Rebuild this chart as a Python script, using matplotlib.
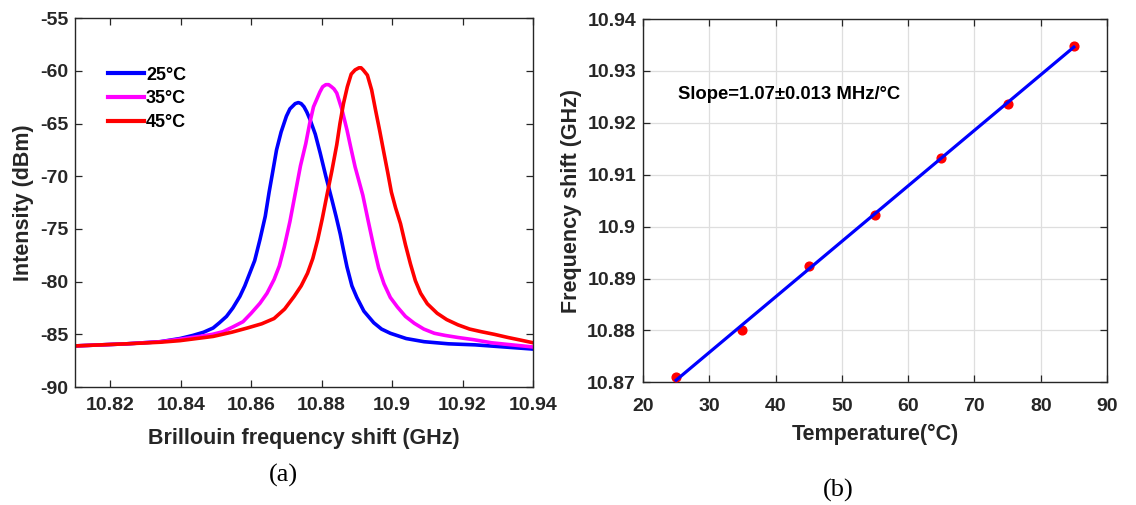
import numpy as np
import matplotlib
matplotlib.use("Agg")
import matplotlib.pyplot as plt

plt.rcParams['font.family'] = ['Liberation Sans', 'DejaVu Sans']
plt.rcParams['axes.unicode_minus'] = False

# ---------------- data ----------------
f_25 = [10.810, 10.8247, 10.8342, 10.8398, 10.8435, 10.8465, 10.8492, 10.8510, 10.8530,
        10.8548, 10.8568, 10.8582, 10.8596, 10.8610, 10.8625, 10.8640, 10.8651, 10.8660,
        10.8672, 10.8685, 10.8700, 10.8710, 10.8725, 10.8734, 10.8742, 10.8750, 10.8758,
        10.8767, 10.8782, 10.8796, 10.8812, 10.8829, 10.8841, 10.8853, 10.8862, 10.8872,
        10.8886, 10.8900, 10.8920, 10.8948, 10.8970, 10.8995, 10.9040, 10.9091, 10.9160,
        10.9236, 10.9400]
p_25 = [-86.1, -85.9, -85.7, -85.4, -85.1, -84.8, -84.4, -83.9, -83.3,
        -82.5, -81.4, -80.4, -79.2, -78.0, -76.0, -73.8, -71.5, -69.8,
        -67.5, -65.8, -64.3, -63.6, -63.1, -63.0, -63.1, -63.4, -63.9,
        -64.6, -66.0, -67.8, -70.0, -72.2, -73.8, -75.5, -77.0, -78.6,
        -80.4, -81.5, -82.8, -83.9, -84.5, -84.9, -85.4, -85.7, -85.9,
        -86.0, -86.4]

f_35 = [10.810, 10.8247, 10.8342, 10.8400, 10.8454, 10.8490, 10.8520, 10.8548, 10.8577,
        10.8600, 10.8625, 10.8645, 10.8665, 10.8680, 10.8694, 10.8710, 10.8727, 10.8740,
        10.8755, 10.8766, 10.8777, 10.8795, 10.8803, 10.8812, 10.8820, 10.8828, 10.8835,
        10.8843, 10.8858, 10.8872, 10.8883, 10.8895, 10.8917, 10.8932, 10.8948, 10.8962,
        10.8977, 10.8995, 10.9015, 10.9038, 10.9063, 10.9090, 10.9120, 10.9150, 10.9187,
        10.9230, 10.9282, 10.9340, 10.9400]
p_35 = [-86.1, -85.9, -85.7, -85.45, -85.2, -85.0, -84.75, -84.3, -83.8,
        -83.0, -82.05, -81.1, -79.8, -78.5, -76.7, -74.3, -71.3, -69.0,
        -66.9, -65.0, -63.4, -62.0, -61.5, -61.3, -61.3, -61.5, -61.7,
        -62.1, -63.7, -65.6, -67.3, -69.1, -71.8, -74.2, -76.7, -78.7,
        -80.2, -81.5, -82.4, -83.3, -83.95, -84.5, -84.9, -85.1, -85.3,
        -85.5, -85.8, -86.0, -86.2]

f_45 = [10.810, 10.8247, 10.8342, 10.8398, 10.8492, 10.8545, 10.8589, 10.8630, 10.8665,
        10.8695, 10.8722, 10.8742, 10.8760, 10.8775, 10.8789, 10.8802, 10.8815, 10.8829,
        10.8843, 10.8852, 10.8862, 10.8873, 10.8884, 10.8895, 10.8906, 10.8912, 10.8918,
        10.8930, 10.8942, 10.8953, 10.8965, 10.8977, 10.8988, 10.8998, 10.9010, 10.9024,
        10.9038, 10.9052, 10.9066, 10.9081, 10.9100, 10.9128, 10.9155, 10.9187, 10.9220,
        10.9253, 10.9290, 10.9329, 10.9365, 10.9400]
p_45 = [-86.1, -85.9, -85.75, -85.6, -85.2, -84.8, -84.4, -84.0, -83.5,
        -82.6, -81.4, -80.4, -79.2, -77.8, -76.0, -74.0, -71.8, -69.5,
        -67.0, -65.0, -63.1, -61.5, -60.3, -59.9, -59.7, -59.7, -59.9,
        -60.4, -61.8, -63.7, -65.7, -67.8, -69.7, -71.5, -73.0, -74.5,
        -76.5, -78.3, -79.9, -81.1, -82.1, -83.0, -83.6, -84.1, -84.5,
        -84.75, -85.0, -85.3, -85.55, -85.8]

spectra_labels = ['25\u00b0C', '35\u00b0C', '45\u00b0C']
spectra_colors = ['#0000ff', '#ff00ff', '#ff0000']

temps = [25, 35, 45, 55, 65, 75, 85]
shift = [10.8710, 10.8800, 10.8925, 10.9023, 10.9132, 10.9237, 10.9348]
slope_text = 'Slope=1.07\u00b10.013 MHz/\u00b0C'

# ---------------- figure ----------------
W, H = 1136, 505
fig = plt.figure(figsize=(W / 100, H / 100), dpi=100)

def px_axes(x0, x1, ytop, ybot):
    return fig.add_axes([x0 / W, (H - ybot) / H, (x1 - x0) / W, (ybot - ytop) / H])

axc = '#262626'

def style(ax, pad_x, pad_y):
    for s in ax.spines.values():
        s.set_color(axc)
        s.set_linewidth(1.0)
    ax.tick_params(direction='in', length=5, width=0.9, color=axc,
                   top=True, right=True, labelsize=14, labelcolor=axc)
    ax.tick_params(axis='x', pad=pad_x)
    ax.tick_params(axis='y', pad=pad_y)
    for lab in ax.get_xticklabels() + ax.get_yticklabels():
        lab.set_fontweight('bold')

# ---- panel (a) ----
ax1 = px_axes(75, 533, 18.3, 387)
for f, p, lab, c in zip([f_25, f_35, f_45], [p_25, p_35, p_45], spectra_labels, spectra_colors):
    ax1.plot(f, p, color=c, lw=2.6, label=lab, solid_joinstyle='round')
ax1.set_xlim(10.81, 10.94)
ax1.set_ylim(-90, -55)
ax1.set_xticks([10.82, 10.84, 10.86, 10.88, 10.90, 10.92, 10.94])
ax1.set_xticklabels(['10.82', '10.84', '10.86', '10.88', '10.9', '10.92', '10.94'])
ax1.set_yticks([-90, -85, -80, -75, -70, -65, -60, -55])
ax1.set_yticklabels(['-90', '-85', '-80', '-75', '-70', '-65', '-60', '-55'])
style(ax1, 7, 5)
ax1.set_xlabel('Brillouin frequency shift (GHz)', fontsize=15.5, fontweight='bold',
               color=axc, labelpad=10)
ax1.set_ylabel('Intensity (dBm)', fontsize=15.5, fontweight='bold', color=axc, labelpad=4)
leg = ax1.legend(loc='upper left', bbox_to_anchor=(0.072, 0.869), frameon=False,
                 fontsize=13, handlelength=2.0, handletextpad=0.1, labelspacing=0.38,
                 borderpad=0, borderaxespad=0)
for t in leg.get_texts():
    t.set_fontweight('bold')
for l in leg.get_lines():
    l.set_linewidth(3)

# ---- panel (b) ----
ax2 = px_axes(643, 1107, 19, 382.3)
ax2.grid(True, color='#dedede', lw=0.9)
ax2.set_axisbelow(True)
ax2.plot(temps, shift, 'o', color='#ff0000', ms=6.3, zorder=3)
k, b = np.polyfit(temps, shift, 1)
tfit = np.array([temps[0], temps[-1]])
ax2.plot(tfit, k * tfit + b, color='#0000ff', lw=2.3, zorder=4)
ax2.set_xlim(20, 90)
ax2.set_ylim(10.87, 10.94)
ax2.set_xticks([20, 30, 40, 50, 60, 70, 80, 90])
ax2.set_yticks([10.87, 10.88, 10.89, 10.90, 10.91, 10.92, 10.93, 10.94])
ax2.set_yticklabels(['10.87', '10.88', '10.89', '10.9', '10.91', '10.92', '10.93', '10.94'])
style(ax2, 11, 5)
ax2.set_xlabel('Temperature(\u00b0C)', fontsize=15.5, fontweight='bold', color=axc, labelpad=7)
ax2.set_ylabel('Frequency shift (GHz)', fontsize=15.5, fontweight='bold', color=axc, labelpad=4)
ax2.text(25.3, 10.9254, slope_text, fontsize=13.3, fontweight='bold', color='black',
         ha='left', va='center')

# captions
fig.text(283 / W, 1 - 475 / H, '(a)', fontsize=19, family='Liberation Serif',
         ha='center', va='center', color='black')
fig.text(838 / W, 1 - 490 / H, '(b)', fontsize=19, family='Liberation Serif',
         ha='center', va='center', color='black')

fig.savefig('out.png', dpi=100)
